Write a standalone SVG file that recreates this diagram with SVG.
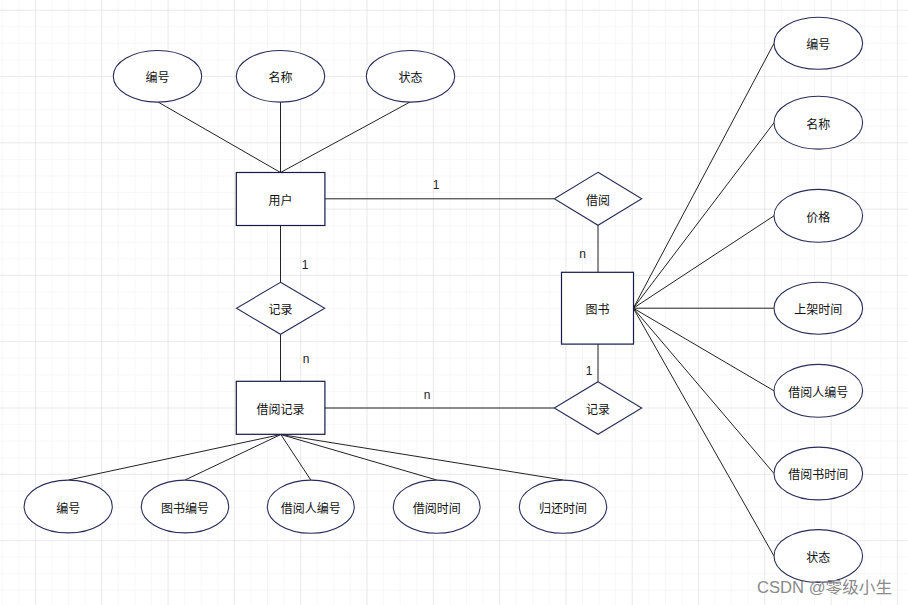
<svg xmlns="http://www.w3.org/2000/svg" width="908" height="605" viewBox="0 0 908 605">
<defs>
<pattern id="minor" x="35" y="9.7" width="16.575" height="16.575" patternUnits="userSpaceOnUse">
<path d="M0 0H16.575M0 0V16.575" fill="none" stroke="#efefef" stroke-width="1"/>
</pattern>
<pattern id="major" x="35" y="9.7" width="66.3" height="66.3" patternUnits="userSpaceOnUse">
<path d="M0 0H66.3M0 0V66.3" fill="none" stroke="#dddddd" stroke-width="1"/>
</pattern>
<style>
.ent{fill:#ffffff;stroke:#141a4a;stroke-width:1.2}
.att{fill:#ffffff;stroke:#2a2d5a;stroke-width:1.1}
.rel{fill:#ffffff;stroke:#2a2d5a;stroke-width:1.1}
.ln{stroke:#222;stroke-width:1;fill:none}
.t{font-family:"Noto Sans CJK SC","Noto Sans",sans-serif;font-size:12px;fill:#111;text-anchor:middle;dominant-baseline:central}
.c{font-family:"Liberation Sans",Arial,sans-serif;font-size:12px;fill:#222;text-anchor:middle;dominant-baseline:central}
.wm{font-family:"Liberation Sans","Noto Sans CJK SC",sans-serif;font-size:16px;fill:#8a8a8a}
</style>
</defs>
<rect width="908" height="605" fill="#ffffff"/>
<rect width="908" height="605" fill="url(#minor)"/>
<rect width="908" height="605" fill="url(#major)"/>

<g id="connectors">
<line class="ln" x1="158" y1="102" x2="280.5" y2="172.5"/>
<line class="ln" x1="280.5" y1="102" x2="280.5" y2="172.5"/>
<line class="ln" x1="410" y1="102" x2="280.5" y2="172.5"/>
<line class="ln" x1="325" y1="198.8" x2="554.3" y2="198.8"/>
<line class="ln" x1="280.5" y1="225.5" x2="280.5" y2="282.3"/>
<line class="ln" x1="280.5" y1="334.3" x2="280.5" y2="381.3"/>
<line class="ln" x1="325" y1="408" x2="554.3" y2="408"/>
<line class="ln" x1="598" y1="225.3" x2="598" y2="272.3"/>
<line class="ln" x1="598" y1="344" x2="598" y2="381.7"/>
<line class="ln" x1="633.3" y1="308.2" x2="774" y2="43.3"/>
<line class="ln" x1="633.3" y1="308.2" x2="774" y2="122.7"/>
<line class="ln" x1="633.3" y1="308.2" x2="774" y2="215.8"/>
<line class="ln" x1="633.3" y1="308.2" x2="774" y2="308.2"/>
<line class="ln" x1="633.3" y1="308.2" x2="774" y2="390.8"/>
<line class="ln" x1="633.3" y1="308.2" x2="774" y2="473.5"/>
<line class="ln" x1="633.3" y1="308.2" x2="774" y2="556"/>
<line class="ln" x1="280.8" y1="434.5" x2="68.5" y2="480"/>
<line class="ln" x1="280.8" y1="434.5" x2="185" y2="480"/>
<line class="ln" x1="280.8" y1="434.5" x2="310.8" y2="480"/>
<line class="ln" x1="280.8" y1="434.5" x2="436.7" y2="480"/>
<line class="ln" x1="280.8" y1="434.5" x2="563" y2="480"/>
<text class="c" x="436" y="185">1</text>
<text class="c" x="305" y="265">1</text>
<text class="c" x="306" y="359">n</text>
<text class="c" x="427" y="395">n</text>
<text class="c" x="582.5" y="253.5">n</text>
<text class="c" x="589" y="371">1</text>
</g>

<g id="user"><rect class="ent" x="236.3" y="172.5" width="88.6" height="53"/><text class="t" x="280.5" y="199">用户</text></g>
<g id="borrow-record"><rect class="ent" x="236.3" y="381.3" width="88.6" height="53"/><text class="t" x="280.5" y="408">借阅记录</text></g>
<g id="book"><rect class="ent" x="561.5" y="272.3" width="72" height="71.8"/><text class="t" x="597.5" y="308.2">图书</text></g>

<g id="rel-borrow"><polygon class="rel" points="598,172.3 641.7,198.8 598,225.3 554.3,198.8"/><text class="t" x="598" y="199">借阅</text></g>
<g id="rel-record-left"><polygon class="rel" points="280.5,282.3 324.7,308.3 280.5,334.3 236.5,308.3"/><text class="t" x="280.5" y="308.5">记录</text></g>
<g id="rel-record-right"><polygon class="rel" points="598,381.7 641.7,408 598,434.3 554.3,408"/><text class="t" x="598" y="408">记录</text></g>

<g id="u-id"><ellipse class="att" cx="157.5" cy="76.3" rx="44.2" ry="25.8"/><text class="t" x="157.5" y="76.5">编号</text></g>
<g id="u-name"><ellipse class="att" cx="280.5" cy="76.3" rx="44.2" ry="25.8"/><text class="t" x="280.5" y="76.5">名称</text></g>
<g id="u-status"><ellipse class="att" cx="410.5" cy="76.3" rx="44.2" ry="25.8"/><text class="t" x="410.5" y="76.5">状态</text></g>

<g id="b-id"><ellipse class="att" cx="818.3" cy="43.3" rx="44.3" ry="26"/><text class="t" x="818.3" y="43.5">编号</text></g>
<g id="b-name"><ellipse class="att" cx="818.3" cy="122.7" rx="44.3" ry="26.4"/><text class="t" x="818.3" y="123">名称</text></g>
<g id="b-price"><ellipse class="att" cx="818.3" cy="215.8" rx="44.3" ry="26.4"/><text class="t" x="818.3" y="216">价格</text></g>
<g id="b-shelf"><ellipse class="att" cx="818.3" cy="308.2" rx="44.3" ry="26"/><text class="t" x="818.3" y="308.5">上架时间</text></g>
<g id="b-borrower"><ellipse class="att" cx="818.3" cy="390.8" rx="44.3" ry="26.4"/><text class="t" x="818.3" y="391">借阅人编号</text></g>
<g id="b-borrowtime"><ellipse class="att" cx="818.3" cy="473.5" rx="44.3" ry="26.4"/><text class="t" x="818.3" y="473.7">借阅书时间</text></g>
<g id="b-status"><ellipse class="att" cx="818.3" cy="556" rx="44.3" ry="26.4"/><text class="t" x="818.3" y="556.2">状态</text></g>

<g id="r-id"><ellipse class="att" cx="68.2" cy="506.5" rx="44.1" ry="26.4"/><text class="t" x="68.2" y="507">编号</text></g>
<g id="r-bookid"><ellipse class="att" cx="185" cy="506.5" rx="43.7" ry="26.4"/><text class="t" x="185" y="507">图书编号</text></g>
<g id="r-borrower"><ellipse class="att" cx="310.8" cy="506.7" rx="43.5" ry="26.6"/><text class="t" x="310.8" y="507">借阅人编号</text></g>
<g id="r-borrowtime"><ellipse class="att" cx="436.7" cy="506.7" rx="43.4" ry="26.6"/><text class="t" x="436.7" y="507">借阅时间</text></g>
<g id="r-returntime"><ellipse class="att" cx="563" cy="506.7" rx="43.7" ry="26.6"/><text class="t" x="563" y="507">归还时间</text></g>

<text class="wm" x="757" y="592.5" textLength="135" lengthAdjust="spacingAndGlyphs">CSDN @零级小生</text>
</svg>
